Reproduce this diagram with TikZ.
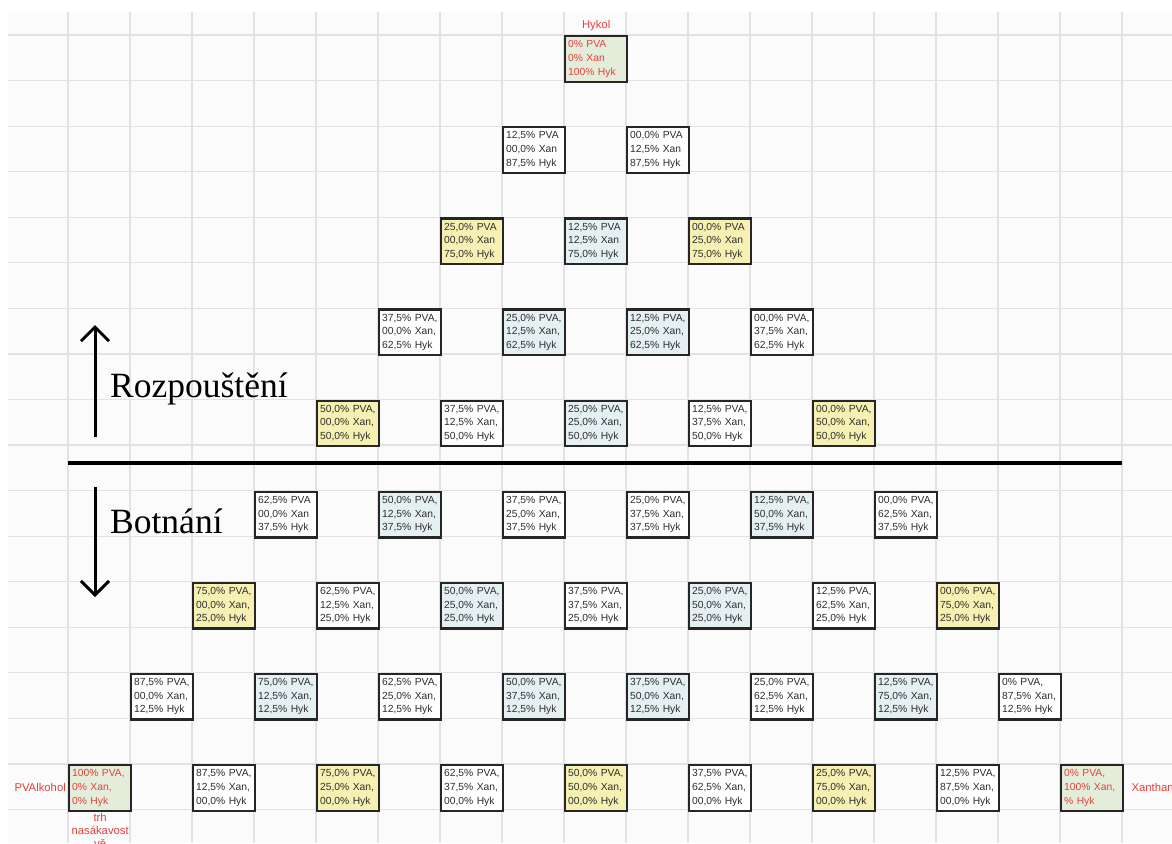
\documentclass[tikz,border=0pt]{standalone}
\usepackage{fontspec}
\setmainfont{Liberation Serif}
\setsansfont{Liberation Sans}
\usepackage{xcolor}
\usetikzlibrary{positioning, arrows.meta}

\definecolor{cellgreen}{HTML}{E4ECDA}
\definecolor{cellyellow}{HTML}{F6F1B2}
\definecolor{cellblue}{HTML}{E5F0F3}
\definecolor{labelred}{HTML}{E4413C}
\definecolor{gridgray}{HTML}{E2E2E2}
\definecolor{gridbg}{HTML}{FBFBFB}
\definecolor{textgray}{HTML}{2E2E2E}

\begin{document}
\begin{tikzpicture}[
    x=1pt, y=-1pt,
    cell/.style={draw=black!85, line width=2.3pt, anchor=north west, text width=56pt, inner xsep=3pt, inner ysep=0pt, minimum height=45.6pt, align=left, font=\sffamily\fontsize{10.3}{13.6}\selectfont, text=textgray},
    whitecell/.style={cell, fill=white},
    yellowcell/.style={cell, fill=cellyellow},
    bluecell/.style={cell, fill=cellblue},
    greencell/.style={cell, fill=cellgreen, text=labelred},
    redlabel/.style={font=\sffamily\fontsize{11.3}{13}\selectfont, text=labelred, inner sep=1pt, align=center},
    bigtext/.style={font=\fontsize{35.5}{40}\selectfont, anchor=base west, inner sep=0pt},
    gridline/.style={gridgray, line width=1.2pt},
    bigarrow/.style={-{Straight Barb[length=14pt, width=28pt]}, line width=3pt}
  ]
    \useasboundingbox (0,0) rectangle (1172,843);
    \fill[white] (0,0) rectangle (1172,843);
    \fill[gridbg] (8,12) rectangle (1172,843);
    % spreadsheet grid
    \foreach \k in {1,...,18}
      \draw[gridline] ({6+62*\k},12) -- ({6+62*\k},843);
    \foreach \j in {0,...,17}
      \draw[gridline] (8,{35+45.56*\j}) -- (1172,{35+45.56*\j});

    % row 0
    \node[greencell] (hykol) at (564,35) {0\% PVA\\0\% Xan\\100\% Hyk};
    % row 1
    \node[whitecell] (r1c8) at (502,126.1) {12,5\% PVA\\00,0\% Xan\\87,5\% Hyk};
    \node[whitecell] (r1c10) at (626,126.1) {00,0\% PVA\\12,5\% Xan\\87,5\% Hyk};
    % row 2
    \node[yellowcell] (r2c7) at (440,217.2) {25,0\% PVA\\00,0\% Xan\\75,0\% Hyk};
    \node[bluecell] (r2c9) at (564,217.2) {12,5\% PVA\\12,5\% Xan\\75,0\% Hyk};
    \node[yellowcell] (r2c11) at (688,217.2) {00,0\% PVA\\25,0\% Xan\\75,0\% Hyk};
    % row 3
    \node[whitecell] (r3c6) at (378,308.4) {37,5\% PVA,\\00,0\% Xan,\\62,5\% Hyk};
    \node[bluecell] (r3c8) at (502,308.4) {25,0\% PVA,\\12,5\% Xan,\\62,5\% Hyk};
    \node[bluecell] (r3c10) at (626,308.4) {12,5\% PVA,\\25,0\% Xan,\\62,5\% Hyk};
    \node[whitecell] (r3c12) at (750,308.4) {00,0\% PVA,\\37,5\% Xan,\\62,5\% Hyk};
    % row 4
    \node[yellowcell] (r4c5) at (316,399.5) {50,0\% PVA,\\00,0\% Xan,\\50,0\% Hyk};
    \node[whitecell] (r4c7) at (440,399.5) {37,5\% PVA,\\12,5\% Xan,\\50,0\% Hyk};
    \node[bluecell] (r4c9) at (564,399.5) {25,0\% PVA,\\25,0\% Xan,\\50,0\% Hyk};
    \node[whitecell] (r4c11) at (688,399.5) {12,5\% PVA,\\37,5\% Xan,\\50,0\% Hyk};
    \node[yellowcell] (r4c13) at (812,399.5) {00,0\% PVA,\\50,0\% Xan,\\50,0\% Hyk};
    % row 5
    \node[whitecell] (r5c4) at (254,490.6) {62,5\% PVA\\00,0\% Xan\\37,5\% Hyk};
    \node[bluecell] (r5c6) at (378,490.6) {50,0\% PVA,\\12,5\% Xan,\\37,5\% Hyk};
    \node[whitecell] (r5c8) at (502,490.6) {37,5\% PVA,\\25,0\% Xan,\\37,5\% Hyk};
    \node[whitecell] (r5c10) at (626,490.6) {25,0\% PVA,\\37,5\% Xan,\\37,5\% Hyk};
    \node[bluecell] (r5c12) at (750,490.6) {12,5\% PVA,\\50,0\% Xan,\\37,5\% Hyk};
    \node[whitecell] (r5c14) at (874,490.6) {00,0\% PVA,\\62,5\% Xan,\\37,5\% Hyk};
    % row 6
    \node[yellowcell] (r6c3) at (192,581.7) {75,0\% PVA,\\00,0\% Xan,\\25,0\% Hyk};
    \node[whitecell] (r6c5) at (316,581.7) {62,5\% PVA,\\12,5\% Xan,\\25,0\% Hyk};
    \node[bluecell] (r6c7) at (440,581.7) {50,0\% PVA,\\25,0\% Xan,\\25,0\% Hyk};
    \node[whitecell] (r6c9) at (564,581.7) {37,5\% PVA,\\37,5\% Xan,\\25,0\% Hyk};
    \node[bluecell] (r6c11) at (688,581.7) {25,0\% PVA,\\50,0\% Xan,\\25,0\% Hyk};
    \node[whitecell] (r6c13) at (812,581.7) {12,5\% PVA,\\62,5\% Xan,\\25,0\% Hyk};
    \node[yellowcell] (r6c15) at (936,581.7) {00,0\% PVA,\\75,0\% Xan,\\25,0\% Hyk};
    % row 7
    \node[whitecell] (r7c2) at (130,672.8) {87,5\% PVA,\\00,0\% Xan,\\12,5\% Hyk};
    \node[bluecell] (r7c4) at (254,672.8) {75,0\% PVA,\\12,5\% Xan,\\12,5\% Hyk};
    \node[whitecell] (r7c6) at (378,672.8) {62,5\% PVA,\\25,0\% Xan,\\12,5\% Hyk};
    \node[bluecell] (r7c8) at (502,672.8) {50,0\% PVA,\\37,5\% Xan,\\12,5\% Hyk};
    \node[bluecell] (r7c10) at (626,672.8) {37,5\% PVA,\\50,0\% Xan,\\12,5\% Hyk};
    \node[whitecell] (r7c12) at (750,672.8) {25,0\% PVA,\\62,5\% Xan,\\12,5\% Hyk};
    \node[bluecell] (r7c14) at (874,672.8) {12,5\% PVA,\\75,0\% Xan,\\12,5\% Hyk};
    \node[whitecell] (r7c16) at (998,672.8) {0\% PVA,\\87,5\% Xan,\\12,5\% Hyk};
    % row 8
    \node[greencell] (pva) at (68,764) {100\% PVA,\\0\% Xan,\\0\% Hyk};
    \node[whitecell] (r8c3) at (192,764) {87,5\% PVA,\\12,5\% Xan,\\00,0\% Hyk};
    \node[yellowcell] (r8c5) at (316,764) {75,0\% PVA,\\25,0\% Xan,\\00,0\% Hyk};
    \node[whitecell] (r8c7) at (440,764) {62,5\% PVA,\\37,5\% Xan,\\00,0\% Hyk};
    \node[yellowcell] (r8c9) at (564,764) {50,0\% PVA,\\50,0\% Xan,\\00,0\% Hyk};
    \node[whitecell] (r8c11) at (688,764) {37,5\% PVA,\\62,5\% Xan,\\00,0\% Hyk};
    \node[yellowcell] (r8c13) at (812,764) {25,0\% PVA,\\75,0\% Xan,\\00,0\% Hyk};
    \node[whitecell] (r8c15) at (936,764) {12,5\% PVA,\\87,5\% Xan,\\00,0\% Hyk};
    \node[greencell] (xan) at (1060,764) {0\% PVA,\\100\% Xan,\\\% Hyk};

    % corner labels
    \node[redlabel, above=3pt of hykol] (hykollab) {Hykol};
    \node[redlabel, left=1pt of pva] (pvalab) {PVAlkohol};
    \node[redlabel, right=6pt of xan] (xanlab) {Xanthan};
    \node[redlabel, below=0pt of pva] (trhlab) {trh\\nasákavost\\vě};

    % divider and arrows
    \coordinate (lineleft) at (68,463);
    \coordinate (lineright) at (1122,463);
    \draw[line width=3.4pt] (lineleft) -- (lineright);
    \coordinate (rozlow) at (95,437);
    \coordinate (rozhigh) at (95,325);
    \coordinate (bothigh) at (95,487);
    \coordinate (botlow) at (95,597);
    \draw[bigarrow] (rozlow) -- (rozhigh);
    \draw[bigarrow] (bothigh) -- (botlow);
    \node[bigtext] (rozp) at (110,397) {Rozpouštění};
    \node[bigtext] (botn) at (110,533) {Botnání};
  \end{tikzpicture}
\end{document}
